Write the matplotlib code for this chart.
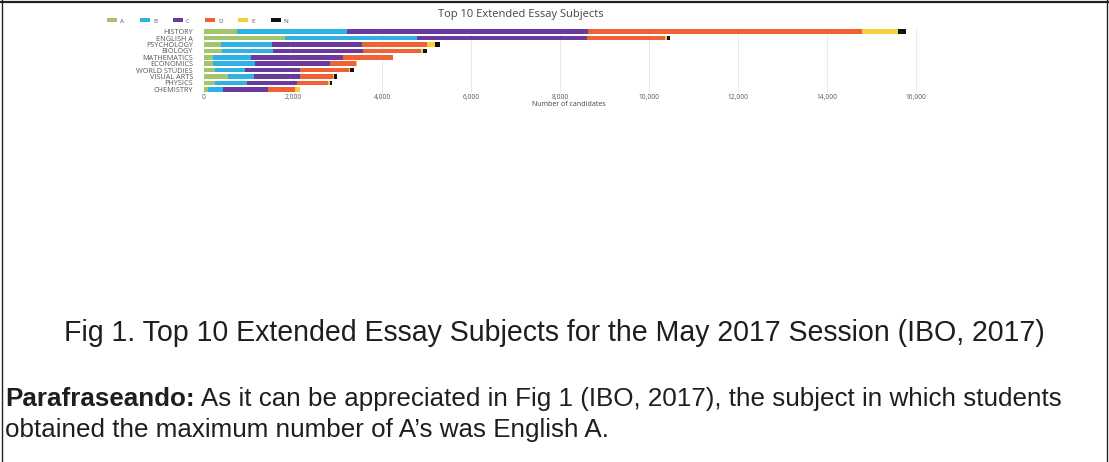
import matplotlib
matplotlib.use("Agg")
import matplotlib.pyplot as plt
from matplotlib.lines import Line2D
from matplotlib.patches import Patch
import numpy as np

# ---------------- data ----------------
subjects = ["HISTORY", "ENGLISH A", "PSYCHOLOGY", "BIOLOGY", "MATHEMATICS",
            "ECONOMICS", "WORLD STUDIES", "VISUAL ARTS", "PHYSICS", "CHEMISTRY"]
grades = ["A", "B", "C", "D", "E", "N"]
grade_A = [740, 1820, 380, 400, 210, 210, 250, 540, 250, 90]
grade_B = [2470, 2960, 1150, 1160, 850, 940, 670, 580, 710, 340]
grade_C = [5420, 3820, 2015, 2020, 2070, 1690, 1240, 1030, 1120, 1010]
grade_D = [6160, 1760, 1470, 1300, 1120, 570, 1090, 750, 710, 600]
grade_E = [790, 40, 180, 40, 0, 30, 30, 20, 30, 110]
grade_N = [200, 70, 100, 80, 0, 0, 80, 60, 60, 0]
x_ticks = [0, 2000, 4000, 6000, 8000, 10000, 12000, 14000, 16000]

chart_title = "Top 10 Extended Essay Subjects"
x_title = "Number of candidates"
caption = "Fig 1. Top 10 Extended Essay Subjects for the May 2017 Session (IBO, 2017)"
para_bold = "Parafraseando:"
para_line1 = " As it can be appreciated in Fig 1 (IBO, 2017), the subject in which students"
para_line2 = "obtained the maximum number of A\u2019s was English A."

series = [grade_A, grade_B, grade_C, grade_D, grade_E, grade_N]
colors = ["#a3c46c", "#2eb2e6", "#6a3a9c", "#ef6234", "#f3d13a", "#111111"]

# ---------------- figure ----------------
W, H = 1109, 462
fig = plt.figure(figsize=(W / 100, H / 100), dpi=100)
fig.patch.set_facecolor("white")


def fx(px):
    return px / W


def fy(py):
    return 1 - py / H


chart_font = ["Open Sans", "DejaVu Sans"]
doc_font = ["Liberation Sans", "DejaVu Sans"]

ax = fig.add_axes([fx(204), fy(93.1), fx(934) - fx(204), (93.1 - 27.9) / H])
y = np.arange(len(subjects))
left = np.zeros(len(subjects))
for name, vals, col in zip(grades, series, colors):
    vals = np.array(vals, dtype=float)
    ax.barh(y, vals, left=left, height=0.72, color=col, label=name, linewidth=0)
    left += vals
ax.set_ylim(len(subjects) - 0.4, -0.6)
ax.set_xlim(0, 16400)
ax.set_xticks(x_ticks)
ax.set_xticklabels([f"{v:,}" for v in x_ticks], fontsize=4.8, color="#555555",
                   family=chart_font)
ax.set_yticks(y)
ax.set_yticklabels(subjects, fontsize=5.2, color="#555555", family=chart_font)
ax.tick_params(axis="y", length=0, pad=8)
ax.tick_params(axis="x", length=0, pad=0.8)
for s in ax.spines.values():
    s.set_visible(False)
ax.grid(axis="x", color="#e6e6e6", linewidth=0.6)
ax.set_axisbelow(True)

fig.text(fx(569), fy(104), x_title, fontsize=5, color="#444444",
         ha="center", va="center", family=chart_font)
fig.text(fx(521), fy(15), chart_title, fontsize=8, color="#444444",
         ha="center", va="center", family=chart_font)

handles = [Patch(facecolor=c, label=g) for g, c in zip(grades, colors)]
fig.legend(handles=handles, loc="center left", bbox_to_anchor=(fx(107), fy(21)),
           ncol=6, frameon=False, prop={"family": chart_font, "size": 4.5},
           handlelength=1.6, handleheight=0.6, columnspacing=2.5,
           handletextpad=0.5, borderaxespad=0, borderpad=0,
           labelcolor="#555555")

# ---------------- document text ----------------
renderer = fig.canvas.get_renderer()


def fit_size(text, target_px, weight="normal"):
    t = fig.text(0, 0, text, fontsize=10, family=doc_font, weight=weight)
    w = t.get_window_extent(renderer).width
    t.remove()
    return 10 * target_px / w


cap_size = fit_size(caption, 984)
fig.text(fx(554), fy(333), caption, fontsize=cap_size, family=doc_font,
         color="#1e1e1e", ha="center", va="center")

# paragraph line 1: bold start + regular rest, fitted to width
tb = fig.text(0, 0, para_bold, fontsize=10, family=doc_font, weight="bold")
wb = tb.get_window_extent(renderer).width
tb.remove()
tr = fig.text(0, 0, para_line1, fontsize=10, family=doc_font)
wr = tr.get_window_extent(renderer).width
tr.remove()
para_size = 10 * 1058 / (wb + wr)

t1 = fig.text(fx(5), fy(399), para_bold, fontsize=para_size, family=doc_font,
              weight="bold", color="#1e1e1e", ha="left", va="center")
wb_px = t1.get_window_extent(renderer).width
fig.text(fx(5 + wb_px), fy(399), para_line1, fontsize=para_size, family=doc_font,
         color="#1e1e1e", ha="left", va="center")
fig.text(fx(5), fy(430), para_line2, fontsize=para_size, family=doc_font,
         color="#1e1e1e", ha="left", va="center")

# ---------------- frame lines ----------------
fig.add_artist(Line2D([fx(0), fx(W)], [fy(1.5), fy(1.5)], color="#222222",
                      linewidth=1.6, transform=fig.transFigure))
fig.add_artist(Line2D([fx(2), fx(2)], [fy(0), fy(H)], color="#222222",
                      linewidth=1.0, transform=fig.transFigure))
fig.add_artist(Line2D([fx(1106.5), fx(1106.5)], [fy(0), fy(H)], color="#222222",
                      linewidth=1.0, transform=fig.transFigure))

fig.savefig("out.png", dpi=100, facecolor="white")
